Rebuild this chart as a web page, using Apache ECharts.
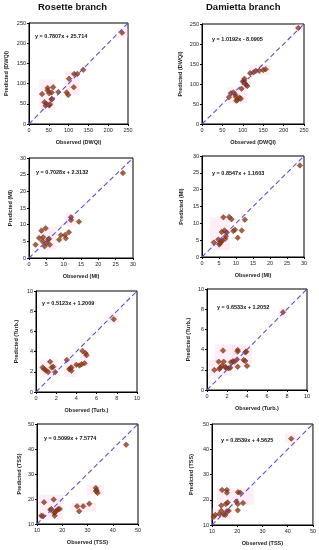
<!DOCTYPE html>
<html><head><meta charset="utf-8">
<script src="https://cdn.jsdelivr.net/npm/echarts@6/dist/echarts.min.js"></script>
<style>html,body{margin:0;padding:0;background:#fff}#c{width:319px;height:550px}</style>
</head><body><div id="c"></div>
<script>
// ---- Data (observed, predicted) ----
const rosetteDWQI = [[235,226],[33,74],[47,89],[47,83],[51,76],[57,78],[61,91],[74,79],[39,54],[44,50],[42,45],[51,46],[57,61],[53,49],[58,62],[95,78],[99,72],[101,112],[113,91],[114,124],[122,124],[137,134]];
const damiettaDWQI = [[236,240],[66,67],[71,77],[77,79],[81,74],[83,68],[87,60],[92,66],[95,63],[84,58],[97,88],[100,106],[103,108],[105,102],[108,98],[111,95],[104,113],[118,127],[126,129],[132,133],[140,133],[150,135],[156,137]];
const rosetteMI = [[27.1,25.5],[1.9,4.0],[2.9,6.0],[3.6,8.2],[4.1,6.2],[3.9,5.0],[4.5,3.5],[4.8,8.9],[5.0,4.5],[5.5,5.5],[5.8,5.8],[6.0,4.0],[8.7,5.5],[9.2,6.8],[10.4,6.9],[10.6,5.9],[11.5,7.7],[12.1,12.2],[12.1,11.4],[14.4,10.9]];
const damiettaMI = [[28.8,27.2],[3.5,4.3],[4.8,5.2],[5.1,3.7],[5.6,4.5],[5.9,4.8],[5.8,7.4],[6.3,11.8],[6.6,7.9],[6.8,5.4],[7.0,6.2],[7.3,7.3],[8.0,11.9],[8.7,11.2],[9.2,7.7],[9.7,8.1],[10.5,5.7],[11.7,7.9],[12.6,11.1],[5.3,4.1]];
const rosetteTurb = [[7.7,7.2],[0.66,2.43],[0.83,2.26],[1.0,2.13],[1.2,1.97],[1.4,3.0],[1.56,2.43],[1.7,2.5],[1.9,1.97],[3.05,3.18],[3.3,2.26],[3.5,2.1],[3.4,2.36],[3.5,2.43],[4.0,2.7],[4.3,2.62],[4.5,2.75],[4.6,4.07],[4.8,2.84],[4.9,3.84],[5.0,3.64]];
const damiettaTurb = [[7.6,7.7],[0.73,1.98],[1.23,2.08],[1.17,2.8],[1.33,2.21],[1.5,2.4],[1.6,3.9],[1.67,2.8],[1.83,2.3],[1.93,2.15],[2.17,2.15],[2.33,2.21],[2.4,2.74],[2.6,2.84],[2.73,2.8],[3.0,3.03],[3.07,3.96],[3.07,3.8],[3.07,2.3],[3.67,2.97],[3.83,3.73],[3.93,3.8],[3.83,2.87],[4.0,2.38]];
const rosetteTSS = [[45.3,41.7],[11.7,13.3],[12.4,13.1],[12.8,18.7],[15.3,15.7],[15.7,16.0],[16.6,19.8],[16.8,14.4],[17.0,13.3],[17.7,15.3],[18.4,16.0],[19.0,16.0],[17.2,14.7],[25.9,17.1],[26.7,15.1],[28.3,17.1],[30.7,18.1],[33.3,24.4],[33.6,23.5],[34.0,22.4],[33.4,23.1]];
const damiettaTSS = [[41.4,44.2],[10.7,13.3],[11.3,14.0],[12.9,14.4],[13.7,15.6],[14.0,23.9],[13.7,17.7],[14.6,14.2],[15.3,14.0],[15.5,18.3],[15.9,23.9],[15.9,22.8],[16.2,18.9],[15.9,15.4],[16.6,15.6],[19.6,19.3],[20.2,18.3],[20.2,15.8],[20.3,23.0],[21.2,22.8],[22.3,18.7]];

// axis ranges [min, max, interval]
const rangeDWQI = [0, 250, 50];
const rangeMI = [0, 30, 5];
const rangeTurb = [0, 10, 2];
const rangeTSS = [10, 50, 10];

const equations = ['y = 0.7807x + 25.714','y = 1.0192x - 8.0905','y = 0.7028x + 2.3132','y = 0.8547x + 1.1603','y = 0.5123x + 1.2009','y = 0.6533x + 1.2052','y = 0.5099x + 7.5774','y = 0.8539x + 4.5625'];
const axisLabelsY = ['Predicted (DWQI)','Predicted (DWQI)','Predicted (MI)','Predicted (MI)','Predicted (Turb.)','Predicted (Turb.)','Predicted (TSS)','Predicted (TSS)'];
const axisLabelsX = ['Observed (DWQI)','Observed (DWQI)','Observed (MI)','Observed (MI)','Observed (Turb.)','Observed (Turb.)','Observed (TSS)','Observed (TSS)'];
const titles = ['Rosette branch','Damietta branch'];

// pink highlight regions (data space)
const highlights = [
  [[[26,35],[66,110]],[[91,72],[128,130]],[[225,213],[250,238]]],
  [[[61,52],[111,92]],[[93,89],[118,117]],[[114,123],[167,148]],[[228,231],[248,250]]],
  [[[3.1,2.5],[8,9.4]],[[10.5,9.5],[13.5,13.5]]],
  [[[2.4,2],[8.2,11.9]]],
  [[[0.4,1.5],[2.2,3.2]],[[2.8,1.5],[4.0,3.3]],[[4.4,2.5],[5.2,4.3]],[[7.3,6.8],[8.2,7.8]]],
  [[[0.2,1.4],[2.5,3.0]],[[0.8,2.8],[2.8,4.5]],[[2.5,2.3],[4.5,4.5]],[[7.2,7.1],[8,8.1]]],
  [[[10.7,11.7],[20.4,21.7]],[[23.7,15],[33.4,18.4]],[[29.7,21.6],[36.6,25.6]]],
  [[[10,12],[17.9,16.6]],[[12,18],[26.5,24.6]],[[39,42.5],[43.7,46.5]]]
];

const datasets = [rosetteDWQI, damiettaDWQI, rosetteMI, damiettaMI, rosetteTurb, damiettaTurb, rosetteTSS, damiettaTSS];
const ranges = [rangeDWQI, rangeDWQI, rangeMI, rangeMI, rangeTurb, rangeTurb, rangeTSS, rangeTSS];

// layout (pixels)
const grids = [
  {left:29, top:23, width:99, height:101},
  {left:202, top:24, width:102, height:100},
  {left:29, top:158, width:104, height:100},
  {left:202, top:156, width:102, height:101},
  {left:36, top:291, width:101, height:101},
  {left:207, top:289, width:100, height:101},
  {left:37, top:424, width:101, height:100},
  {left:212, top:424, width:101, height:101}
];
const eqPos = [[35,36],[212,39],[36,172],[212,173],[42,303],[217,307],[44,438],[221,440]];
const yNameGap = [20,19,16,18,17,16,15,18];

const FONT = 'Liberation Sans';
const option = {
  animation:false,
  backgroundColor:'#fff',
  textStyle:{fontFamily:FONT},
  grid:[], xAxis:[], yAxis:[], series:[], graphic:[]
};
grids.forEach((g,i)=>{
  const r = ranges[i];
  option.grid.push(Object.assign({show:true, borderColor:'#000', borderWidth:1, containLabel:false}, g));
  const common = {gridIndex:i, type:'value', min:r[0], max:r[1], interval:r[2],
    axisLine:{show:true, onZero:false, lineStyle:{color:'#000', width:1}},
    axisTick:{show:true, length:2, lineStyle:{color:'#000'}},
    splitLine:{show:false},
    axisLabel:{fontSize:5.5, color:'#222', margin:3, fontFamily:FONT},
    nameTextStyle:{fontSize:5.5, color:'#222', fontWeight:'bold', fontFamily:FONT},
    nameLocation:'middle'};
  option.xAxis.push(Object.assign({}, common, {name:axisLabelsX[i], nameGap:15}));
  option.yAxis.push(Object.assign({}, common, {name:axisLabelsY[i], nameGap:yNameGap[i], nameRotate:90}));
  option.series.push({
    type:'scatter', xAxisIndex:i, yAxisIndex:i, data:datasets[i],
    symbol:'diamond', symbolSize:5.5,
    itemStyle:{color:'#933a16', borderColor:'#5e260c', borderWidth:0.6},
    markArea:{silent:true, itemStyle:{color:'rgba(255,205,232,0.35)'},
      data: highlights[i].map(h=>[{coord:h[0]},{coord:h[1]}])}
  });
  option.series.push({
    type:'line', xAxisIndex:i, yAxisIndex:i, data:[[r[0],r[0]],[r[1],r[1]]],
    symbol:'none', silent:true, z:3,
    lineStyle:{color:'#5a4fd8', width:1.1, type:[5,3]}
  });
  option.graphic.push({type:'text', left:eqPos[i][0], top:eqPos[i][1]-3,
    style:{text:equations[i], font:'bold 5.5px "Liberation Sans"', fill:'#111'}});
});
option.graphic.push({type:'text', left:38, top:2, style:{text:titles[0], font:'bold 9.5px "Liberation Sans"', fill:'#111'}});
option.graphic.push({type:'text', left:206, top:2, style:{text:titles[1], font:'bold 9.5px "Liberation Sans"', fill:'#111'}});

const chart = echarts.init(document.getElementById('c'), null, {renderer:'canvas'});
chart.setOption(option);
</script></body></html>
